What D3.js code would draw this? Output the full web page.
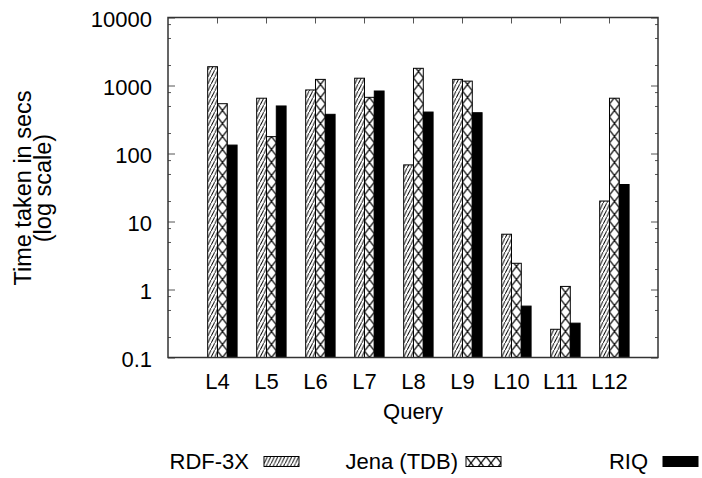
<!DOCTYPE html>
<html>
<head>
<meta charset="utf-8">
<script src="https://cdn.jsdelivr.net/npm/d3@7"></script>
<style>
  body { margin: 0; background: #fff; }
  text { font-family: "Liberation Sans", Arial, Helvetica, sans-serif; fill: #000; }
</style>
</head>
<body>
<script>
// query times, secs (log scale)
var categories = ["L4", "L5", "L6", "L7", "L8", "L9", "L10", "L11", "L12"];
var rdf3x    = [1890, 650, 860, 1280, 68, 1230, 6.5, 0.26, 20];
var jenaTdb  = [540, 177, 1230, 670, 1790, 1160, 2.43, 1.11, 650];
var riq      = [133, 500, 377, 830, 407, 398, 0.57, 0.32, 35];
var seriesNames = ["RDF-3X", "Jena (TDB)", "RIQ"];
var yTicks = [0.1, 1, 10, 100, 1000, 10000];
var yMinor = [0.2, 0.5, 0.8, 2, 5, 8, 20, 50, 80, 200, 500, 800, 2000, 5000, 8000];

var svgW = 702, svgH = 478;
var pLeft = 168, pRight = 658, pTop = 17.5, pBottom = 357.5;

var svg = d3.select("body").append("svg")
  .attr("width", svgW)
  .attr("height", svgH);

svg.append("rect").attr("width", svgW).attr("height", svgH).attr("fill", "#fff");

var defs = svg.append("defs");
// diagonal hatch ////
var p1 = defs.append("pattern").attr("id", "hatch")
  .attr("patternUnits", "userSpaceOnUse")
  .attr("width", 3.5).attr("height", 7);
p1.append("rect").attr("width", 3.5).attr("height", 7).attr("fill", "#fff");
p1.append("path").attr("d", "M-0.5,8 L4,-1")
  .attr("stroke", "#000").attr("stroke-width", 1);
// cross hatch XXX
var p2 = defs.append("pattern").attr("id", "cross")
  .attr("patternUnits", "userSpaceOnUse")
  .attr("width", 10).attr("height", 13);
p2.append("rect").attr("width", 10).attr("height", 13).attr("fill", "#fff");
p2.append("path").attr("d", "M0,0 L10,13 M10,0 L0,13")
  .attr("stroke", "#000").attr("stroke-width", 1.2);

var fills = ["url(#hatch)", "url(#cross)", "#000"];
var offsets = [-0.19, 0.01, 0.21];
var barW = 0.2;

var x = d3.scaleLinear().domain([-1, 9]).range([pLeft, pRight]);
var y = d3.scaleLog().domain([0.1, 10000]).range([pBottom, pTop]);

var idx = d3.range(categories.length);

// axes (ticks inward, mirrored)
function styleAxis(g) {
  g.select(".domain").remove();
  g.selectAll(".tick line").attr("stroke", "#555").attr("stroke-width", 1);
  g.selectAll(".tick text").attr("font-size", "22px")
    .attr("font-family", "'Liberation Sans', Arial, Helvetica, sans-serif");
}

svg.append("g").attr("transform", "translate(" + pLeft + ",0)")
  .call(d3.axisLeft(y).tickValues(yTicks).tickSize(-7).tickPadding(16)
    .tickFormat(function (d) { return String(d); }))
  .call(styleAxis)
  .selectAll(".tick text").attr("dy", "0.4em");

svg.append("g").attr("transform", "translate(" + pLeft + ",0)")
  .call(d3.axisLeft(y).tickValues(yMinor).tickSize(-3).tickFormat(""))
  .call(styleAxis);

svg.append("g").attr("transform", "translate(" + pRight + ",0)")
  .call(d3.axisRight(y).tickValues(yTicks).tickSize(-7).tickFormat(""))
  .call(styleAxis);

svg.append("g").attr("transform", "translate(" + pRight + ",0)")
  .call(d3.axisRight(y).tickValues(yMinor).tickSize(-3).tickFormat(""))
  .call(styleAxis);

svg.append("g").attr("transform", "translate(0," + pTop + ")")
  .call(d3.axisTop(x).tickValues(idx).tickSize(-6).tickFormat(""))
  .call(styleAxis);

svg.append("g").attr("transform", "translate(0," + pBottom + ")")
  .call(d3.axisBottom(x).tickValues(idx).tickSize(-6).tickPadding(16)
    .tickFormat(function (i) { return categories[i]; }))
  .call(styleAxis);

// bars
var series = [rdf3x, jenaTdb, riq];
series.forEach(function (vals, s) {
  var g = svg.append("g");
  g.selectAll("g.bar").data(vals).enter()
    .append("g")
    .attr("class", "bar")
    .attr("transform", function (d, i) { return "translate(" + x(i + offsets[s]) + ",0)"; })
    .append("rect")
    .attr("x", 0)
    .attr("y", function (d) { return y(d); })
    .attr("width", function (d, i) { return x(i + offsets[s] + barW) - x(i + offsets[s]); })
    .attr("height", function (d) { return y(0.1) - y(d); })
    .attr("fill", fills[s])
    .attr("stroke", "#000")
    .attr("stroke-width", 1);
});

// frame
svg.append("rect")
  .attr("x", pLeft).attr("y", pTop)
  .attr("width", pRight - pLeft).attr("height", pBottom - pTop)
  .attr("fill", "none").attr("stroke", "#333").attr("stroke-width", 1.5);

// axis titles
svg.append("text")
  .attr("x", (pLeft + pRight) / 2).attr("y", 419)
  .attr("text-anchor", "middle").attr("font-size", "22px")
  .text("Query");

var yl = svg.append("text")
  .attr("transform", "translate(0,188) rotate(-90)")
  .attr("text-anchor", "middle").attr("font-size", "23.5px");
yl.append("tspan").attr("x", 0).attr("y", 31).text("Time taken in secs");
yl.append("tspan").attr("x", 0).attr("y", 51).text("(log scale)");

// legend
var legTextEnd = [249, 458, 648];
var legBoxX = [264, 466, 663];
seriesNames.forEach(function (name, s) {
  svg.append("text")
    .attr("x", legTextEnd[s]).attr("y", 469)
    .attr("text-anchor", "end").attr("font-size", "22px")
    .text(name);
  svg.append("g").attr("transform", "translate(" + legBoxX[s] + ",456.5)")
    .append("rect")
    .attr("width", 35).attr("height", 10)
    .attr("fill", fills[s]).attr("stroke", "#000").attr("stroke-width", 1);
});
</script>
</body>
</html>
